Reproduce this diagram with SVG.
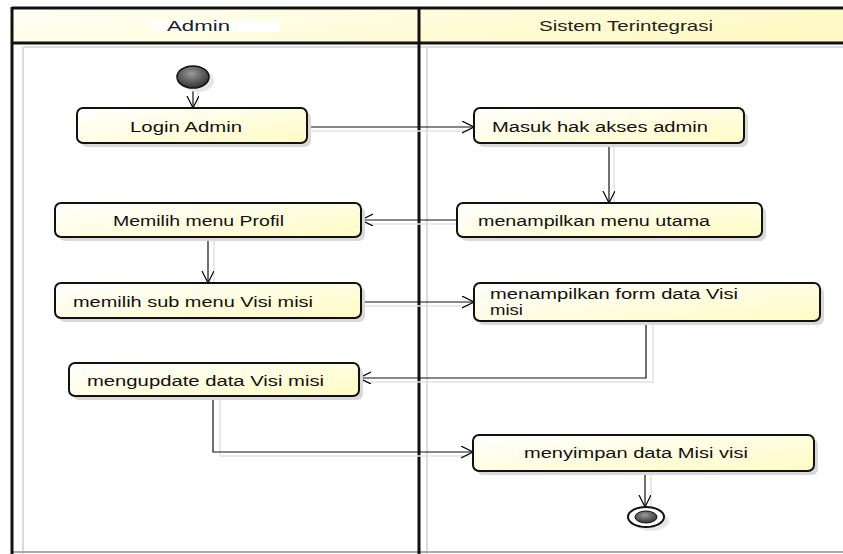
<svg xmlns="http://www.w3.org/2000/svg" width="843" height="554" viewBox="0 0 843 554">
<defs>
<linearGradient id="nodeFill" x1="0" y1="0" x2="1" y2="1">
<stop offset="0" stop-color="#ffffff"/>
<stop offset="1" stop-color="#fffbc4"/>
</linearGradient>
<linearGradient id="headFill" x1="0" y1="0" x2="1" y2="0.3">
<stop offset="0" stop-color="#fffff6"/>
<stop offset="1" stop-color="#fff9c6"/>
</linearGradient>
<radialGradient id="dot" cx="0.45" cy="0.35" r="0.7">
<stop offset="0" stop-color="#9a9a9a"/>
<stop offset="1" stop-color="#2a2a2a"/>
</radialGradient>
<marker id="arr" markerWidth="14" markerHeight="14" refX="12" refY="6" orient="auto" markerUnits="userSpaceOnUse">
<path d="M0,0 L12,6 L0,12" fill="none" stroke="#000" stroke-width="1.2"/>
</marker>
</defs>
<style>
.node{fill:url(#nodeFill);stroke:#111;stroke-width:2}
.shadow{fill:#d9d9d9}
.lbl{font-family:"Liberation Sans",Arial,sans-serif;font-size:14px;fill:#111}
.hd{font-family:"Liberation Sans",Arial,sans-serif;font-size:14px;fill:#222}
.conn{fill:none;stroke:#111;stroke-width:1.2;marker-end:url(#arr)}
.cshadow{fill:none;stroke:#e2e2e2;stroke-width:1.5}
.lane{stroke:#111;stroke-width:3;fill:none}
.laneShadow{stroke:#dcdcdc;stroke-width:2;fill:none}
</style>
<rect width="843" height="554" fill="#fff"/>

<g id="swimlanes">
<rect x="12" y="8" width="831" height="35" fill="url(#headFill)"/>
<line class="laneShadow" x1="23" y1="47" x2="23" y2="554"/>
<line class="laneShadow" x1="427" y1="47" x2="427" y2="554"/>
<line class="laneShadow" x1="23" y1="47" x2="843" y2="47"/>
<line x1="12" y1="552" x2="843" y2="552" stroke="#aaa" stroke-width="2"/>
<line class="lane" x1="12" y1="8" x2="843" y2="8"/>
<line class="lane" x1="12" y1="43" x2="843" y2="43" stroke-width="2.5"/>
<line class="lane" x1="12" y1="7" x2="12" y2="554"/>
<line class="lane" x1="419" y1="7" x2="419" y2="554"/>
<rect x="153" y="21" width="127" height="11" fill="#fff"/>
<text class="hd" x="167" y="31" textLength="63" lengthAdjust="spacingAndGlyphs">Admin</text>
<text class="hd" x="539" y="31" textLength="174" lengthAdjust="spacingAndGlyphs">Sistem Terintegrasi</text>
</g>

<g id="connectors">
<path class="cshadow" d="M198,92 V112"/>
<path class="cshadow" d="M307,131 H470"/>
<path class="cshadow" d="M614,147 V205"/>
<path class="cshadow" d="M457,224 H365"/>
<path class="cshadow" d="M214,241 V285"/>
<path class="cshadow" d="M361,306 H470"/>
<path class="cshadow" d="M653,325 V382 H363"/>
<path class="cshadow" d="M220,400 V456 H470"/>
<path class="cshadow" d="M651,475 V509"/>
<path class="conn" d="M193,88 V108"/>
<path class="conn" d="M307,127 H474"/>
<path class="conn" d="M609,143 V203"/>
<path class="conn" d="M457,220 H361"/>
<path class="conn" d="M208,237 V283"/>
<path class="conn" d="M361,302 H474"/>
<path class="conn" d="M646,321 V378 H359"/>
<path class="conn" d="M213,396 V452 H473"/>
<path class="conn" d="M645,471 V507"/>
</g>

<g id="start">
<ellipse cx="198" cy="81" rx="16" ry="11" fill="#e6e6e6"/>
<ellipse cx="193" cy="77" rx="16" ry="11" fill="url(#dot)" stroke="#111" stroke-width="1.5"/>
</g>

<g id="login-admin">
<rect class="shadow" x="81" y="112" width="230" height="35" rx="6"/>
<rect class="node" x="77" y="108" width="230" height="35" rx="6"/>
<text class="lbl" x="130" y="132" textLength="112" lengthAdjust="spacingAndGlyphs">Login Admin</text>
</g>

<g id="masuk-hak-akses">
<rect class="shadow" x="478" y="112" width="270" height="35" rx="6"/>
<rect class="node" x="474" y="108" width="270" height="35" rx="6"/>
<text class="lbl" x="492" y="132" textLength="216" lengthAdjust="spacingAndGlyphs">Masuk hak akses admin</text>
</g>

<g id="menampilkan-menu-utama">
<rect class="shadow" x="461" y="207" width="305" height="34" rx="6"/>
<rect class="node" x="457" y="203" width="305" height="34" rx="6"/>
<text class="lbl" x="478" y="226" textLength="232" lengthAdjust="spacingAndGlyphs">menampilkan menu utama</text>
</g>

<g id="memilih-menu-profil">
<rect class="shadow" x="59" y="207" width="306" height="34" rx="6"/>
<rect class="node" x="55" y="203" width="306" height="34" rx="6"/>
<text class="lbl" x="113" y="226" textLength="171" lengthAdjust="spacingAndGlyphs">Memilih menu Profil</text>
</g>

<g id="memilih-sub-menu">
<rect class="shadow" x="59" y="287" width="306" height="35" rx="6"/>
<rect class="node" x="55" y="283" width="306" height="35" rx="6"/>
<text class="lbl" x="73" y="307" textLength="240" lengthAdjust="spacingAndGlyphs">memilih sub menu Visi misi</text>
</g>

<g id="menampilkan-form">
<rect class="shadow" x="478" y="287" width="346" height="38" rx="6"/>
<rect class="node" x="474" y="283" width="346" height="38" rx="6"/>
<text class="lbl" x="490" y="299" textLength="248" lengthAdjust="spacingAndGlyphs">menampilkan form data Visi</text>
<text class="lbl" x="490" y="315" textLength="33" lengthAdjust="spacingAndGlyphs">misi</text>
</g>

<g id="mengupdate-data">
<rect class="shadow" x="73" y="367" width="290" height="33" rx="6"/>
<rect class="node" x="69" y="363" width="290" height="33" rx="6"/>
<text class="lbl" x="87" y="386" textLength="237" lengthAdjust="spacingAndGlyphs">mengupdate data Visi misi</text>
</g>

<g id="menyimpan-data">
<rect class="shadow" x="477" y="439" width="341" height="36" rx="6"/>
<rect class="node" x="473" y="435" width="341" height="36" rx="6"/>
<text class="lbl" x="524" y="458" textLength="224" lengthAdjust="spacingAndGlyphs">menyimpan data Misi visi</text>
</g>

<g id="end">
<ellipse cx="651" cy="521" rx="18" ry="10" fill="#e6e6e6"/>
<ellipse cx="646" cy="517" rx="18" ry="10" fill="#fff" stroke="#111" stroke-width="2"/>
<ellipse cx="646" cy="517" rx="11" ry="6" fill="url(#dot)" stroke="#111" stroke-width="1"/>
</g>
</svg>
